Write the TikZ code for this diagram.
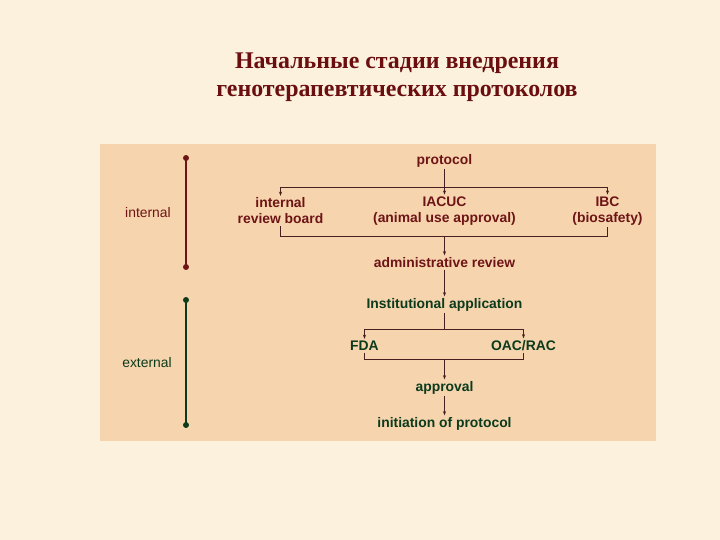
\documentclass[tikz,border=0pt]{standalone}
\usepackage{fontspec}
\setmainfont{Liberation Serif}
\newfontfamily\arialf{Liberation Sans}
\usetikzlibrary{arrows.meta}
\definecolor{bgcream}{HTML}{FBF1DD}
\definecolor{panel}{HTML}{F6D5AE}
\definecolor{dred}{HTML}{6E1416}
\definecolor{dgreen}{HTML}{0C3A1C}
\definecolor{ttl}{HTML}{6A0E10}
\definecolor{conn}{HTML}{4A1E1E}
\tikzset{
  lbl/.style={font=\arialf\bfseries\fontsize{7.9}{9.1}\selectfont, inner sep=1pt, anchor=base},
  lbltwo/.style={font=\arialf\bfseries\fontsize{7.9}{9.1}\selectfont, inner sep=1pt, align=center, anchor=center},
  side/.style={font=\arialf\fontsize{7.9}{9.1}\selectfont, inner sep=1pt, anchor=base},
  ln/.style={draw=conn, line width=0.6pt},
  arr/.style={ln, -{Stealth[length=2.4pt,width=1.8pt]}},
  bardot/.style={circle, fill=#1, inner sep=0pt, minimum size=3.4pt},
  bar/.style={draw=#1, line width=0.9pt},
}
\begin{document}
\begin{tikzpicture}[x=0.02cm,y=-0.02cm]
\fill[bgcream] (0,0) rectangle (720,540);
\useasboundingbox (0,0) rectangle (720,540);
\fill[panel] (100,144) rectangle (656,441);

% title
\node[font=\bfseries\fontsize{13.6}{16}\selectfont, text=ttl, align=center, inner sep=0pt] (title) at (397,77)
  {Начальные стадии внедрения\\генотерапевтических протоколов};

% side bars
\draw[bar=dred] (186,158) -- (186,267);
\node[bardot=dred] (i1) at (186,158) {};
\node[bardot=dred] (i2) at (186,267) {};
\node[side, text=dred] (intl) at (148,217.5) {internal};
\draw[bar=dgreen] (186,300) -- (186,425);
\node[bardot=dgreen] (e1) at (186,300) {};
\node[bardot=dgreen] (e2) at (186,425) {};
\node[side, text=dgreen] (extl) at (147,367.5) {external};

% nodes
\node[lbl, text=dred] (proto) at (444.5,164.5) {protocol};
\node[lbltwo, text=dred] (irb) at (280.5,211) {internal\\review board};
\node[lbltwo, text=dred] (iacuc) at (444.5,211) {IACUC\\(animal use approval)};
\node[lbltwo, text=dred] (ibc) at (607.5,211) {IBC\\(biosafety)};
\node[lbl, text=dred] (adm) at (444.5,267.5) {administrative review};
\node[lbl, text=dgreen] (inst) at (444.5,308.5) {Institutional application};
\node[lbl, text=dgreen] (fda) at (364.5,350.5) {FDA};
\node[lbl, text=dgreen] (oac) at (523.5,350.5) {OAC/RAC};
\node[lbl, text=dgreen] (appr) at (444.5,391.5) {approval};
\node[lbl, text=dgreen] (init) at (444.5,427.5) {initiation of protocol};

% junctions
\coordinate (h1) at (444.5,187.5);
\coordinate (b1) at (444.5,236.5);
\coordinate (h2) at (444.5,329.5);
\coordinate (b2) at (444.5,359.5);

% connectors
\draw[ln] (proto.south) -- (h1);
\draw[ln] (irb.north |- h1) -- (ibc.north |- h1);
\draw[arr] (irb.north |- h1) -- (irb.north);
\draw[arr] (h1) -- (iacuc.north);
\draw[arr] (ibc.north |- h1) -- (ibc.north);
\draw[ln] (irb.south) |- (b1) -| (ibc.south);
\draw[arr] (b1) -- (adm.north);
\draw[arr] (adm.south) -- (inst.north);
\draw[ln] (inst.south) -- (h2);
\draw[ln] (fda.north |- h2) -- (oac.north |- h2);
\draw[arr] (fda.north |- h2) -- (fda.north);
\draw[arr] (oac.north |- h2) -- (oac.north);
\draw[ln] (fda.south) |- (b2) -| (oac.south);
\draw[arr] (b2) -- (appr.north);
\draw[arr] (appr.south) -- (init.north);
\end{tikzpicture}
\end{document}
